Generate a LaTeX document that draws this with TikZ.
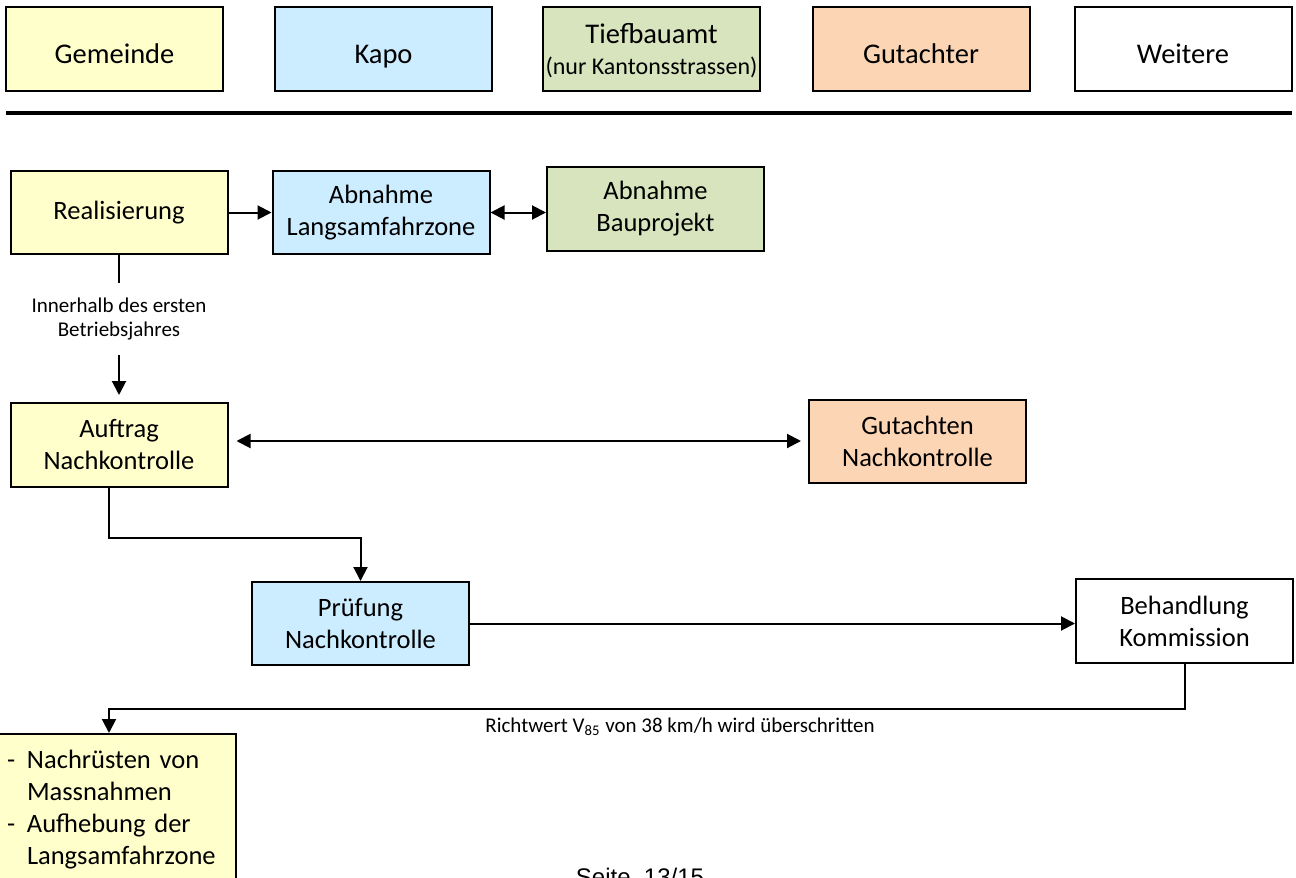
\documentclass[tikz,border=0pt]{standalone}
\usepackage{fontspec}
\setmainfont{Carlito}
\newfontfamily\seitenfont{Liberation Sans}
\usetikzlibrary{arrows.meta}
\newlength{\du}
\setlength{\du}{0.5pt}
\newcommand{\kopftext}{\fontsize{14.25}{15.5}\selectfont}
\newcommand{\kopfklein}{\fontsize{12}{14}\selectfont}
\newcommand{\kastentext}{\fontsize{13.25}{16}\selectfont}
\newcommand{\kleintext}{\fontsize{10.5}{12}\selectfont}
\definecolor{gemeindegelb}{HTML}{FFFFCC}
\definecolor{kapoblau}{HTML}{CCECFF}
\definecolor{tiefbaugruen}{HTML}{D7E4BD}
\definecolor{gutachterorange}{HTML}{FCD5B5}
\tikzset{
kasten/.style={draw=black,line width=2\du,minimum width=217\du,minimum height=83\du,inner sep=0pt,align=center,font=\kastentext},
kopfkasten/.style={kasten,minimum height=84\du,font=\kopftext},
kopfzeile/.style={kopfkasten,text height=16pt,text depth=2pt},
pfeil/.style={line width=1pt,-{Triangle[length=7pt,width=7pt]}},
pfeilzwei/.style={line width=1pt,{Triangle[length=7pt,width=7pt]}-{Triangle[length=7pt,width=7pt]}},
linie/.style={line width=1pt},
marke/.style={inner sep=0pt,align=center,font=\kleintext}
}
\begin{document}
\begin{tikzpicture}
\pgftransformyscale{-1.000000}
\useasboundingbox (0\du,0\du) rectangle (1296\du,878\du);
% Kopfzeile
\node[kopfzeile,fill=gemeindegelb] (gemeinde) at (114.5\du,49\du) {Gemeinde};
\node[kopfzeile,fill=kapoblau] (kapo) at (383.5\du,49\du) {Kapo};
\node[kopfkasten,fill=tiefbaugruen,text height=27pt,text depth=2pt] (tiefbau) at (651.5\du,49\du) {Tiefbauamt\\{\kopfklein (nur Kantonsstrassen)}};
\node[kopfzeile,fill=gutachterorange] (gutachter) at (921\du,49\du) {Gutachter};
\node[kopfzeile,fill=white] (weitere) at (1183\du,49\du) {Weitere};
\draw[line width=4\du] (6\du,113\du)--(1292\du,113\du);
% Ablauf
\node[kasten,fill=gemeindegelb] (realisierung) at (119\du,212.5\du) {Realisierung};
\node[kasten,fill=kapoblau] (abnahmelz) at (381\du,212.5\du) {Abnahme\\Langsamfahrzone};
\node[kasten,fill=tiefbaugruen,minimum height=84\du] (abnahmebp) at (655.5\du,209\du) {Abnahme\\Bauprojekt};
\node[marke,inner ysep=15\du] (frist) at (119\du,319\du) {Innerhalb des ersten\\Betriebsjahres};
\node[kasten,fill=gemeindegelb,minimum height=84\du] (auftrag) at (119\du,445\du) {Auftrag\\Nachkontrolle};
\node[kasten,fill=gutachterorange] (gutachten) at (917.5\du,441\du) {Gutachten\\Nachkontrolle};
\node[kasten,fill=kapoblau] (pruefung) at (360.5\du,623.5\du) {Prüfung\\Nachkontrolle};
\node[kasten,fill=white,minimum height=84\du] (behandlung) at (1184.5\du,621\du) {Behandlung\\Kommission};
\node[marke] (richtwert) at (680\du,727\du) {Richtwert V\textsubscript{85} von 38 km/h wird überschritten};
\node[draw=black,line width=2\du,fill=gemeindegelb,anchor=north west,text width=220\du,inner xsep=9\du,inner ysep=16\du,align=left,font=\kastentext] (massnahmen) at (-3\du,733\du) {\makebox[20\du][l]{-}Nachrüsten von\\\makebox[20\du][l]{}Massnahmen\\\makebox[20\du][l]{-}Aufhebung der\\\makebox[20\du][l]{}Langsamfahrzone};
\node[font=\seitenfont\fontsize{12}{14}\selectfont,anchor=base,inner sep=0pt] (seite) at (640\du,885\du) {Seite\ \ 13/15};
\coordinate (knickA) at (360.5\du,538\du);
\coordinate (knickB) at (109\du,709\du);
% Verbindungen
\draw[pfeil] (realisierung.east)--(realisierung.east -| abnahmelz.west);
\draw[pfeilzwei] (abnahmelz.east)--(abnahmelz.east -| abnahmebp.west);
\draw[linie] (realisierung.south)--(frist.north);
\draw[pfeil,shorten >=7\du] (frist.south)--(auftrag.north);
\draw[pfeilzwei,shorten <=8\du,shorten >=7\du] (auftrag.east |- gutachten.west)--(gutachten.west);
\draw[pfeil] ([xshift=-10\du]auftrag.south) |- (knickA)--(pruefung.north);
\draw[pfeil] (pruefung.east)--(pruefung.east -| behandlung.west);
\draw[pfeil] (behandlung.south) |- (knickB)--(knickB |- massnahmen.north);
\end{tikzpicture}
\end{document}
